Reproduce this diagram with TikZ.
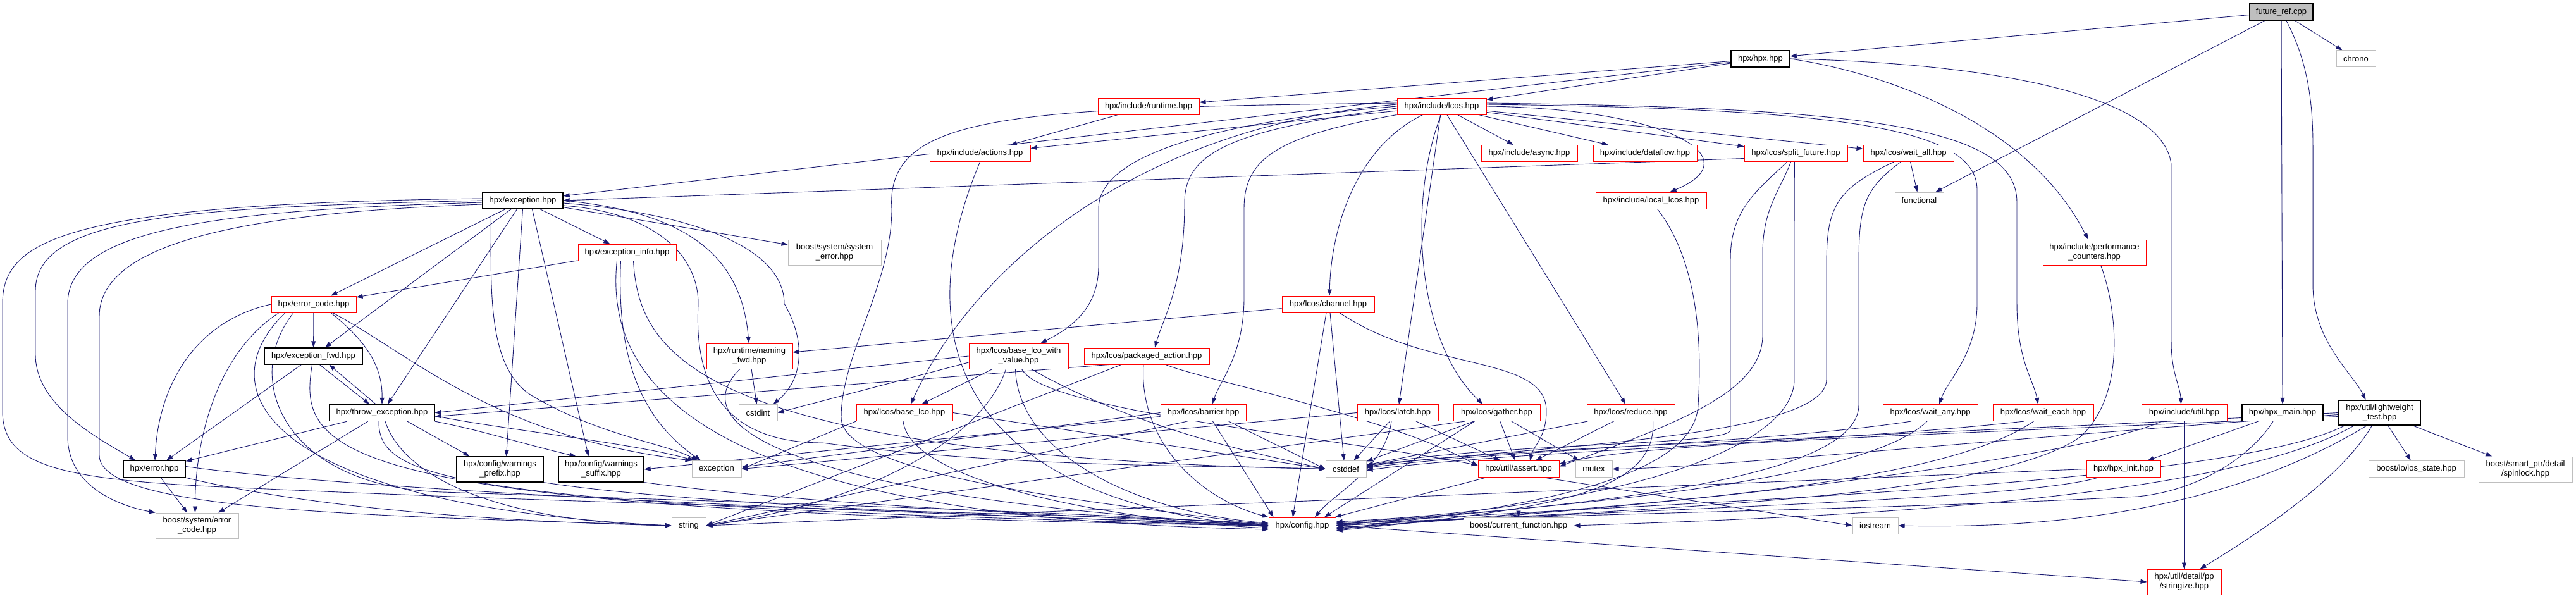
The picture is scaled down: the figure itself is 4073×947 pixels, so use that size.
\documentclass[tikz,border=0pt]{standalone}
\usepackage{fontspec}
\setmainfont{Liberation Sans}
\usetikzlibrary{arrows.meta}
\definecolor{edgec}{HTML}{191970}
\definecolor{nred}{HTML}{FF0000}
\definecolor{ngray}{HTML}{BFBFBF}
\pgfdeclarelayer{back}
\pgfdeclarelayer{edges}
\pgfsetlayers{back,edges,main}
\tikzset{
 box/.style={rectangle, minimum height=26pt, inner sep=0pt, align=center, font=\fontsize{13}{15}\selectfont, fill=white, line width=1pt},
 rbox/.style={box, draw=nred},
 kbox/.style={box, draw=black, line width=1.3pt},
 gbox/.style={box, draw=ngray},
 dep/.style={draw=edgec, line width=0.9pt, -{Triangle[length=10pt,width=7pt]}},
}
\begin{document}
\begin{tikzpicture}[x=1pt,y=-1pt]
\begin{pgfonlayer}{back}
\fill[white] (0,0) rectangle (4073,947);
\end{pgfonlayer}
\useasboundingbox (0,0) rectangle (4073,947);
% ---------------- nodes
\node[kbox,fill=ngray,minimum width=100pt] (fr) at (3607,19) {future\_ref.cpp};
\node[kbox,minimum width=93pt] (hpx) at (2783.5,93) {hpx/hpx.hpp};
\node[gbox,minimum width=62pt] (chrono) at (3725,93) {chrono};
\node[rbox,minimum width=160pt] (runtime) at (1816,168) {hpx/include/runtime.hpp};
\node[rbox,minimum width=141pt] (lcos) at (2279.5,168) {hpx/include/lcos.hpp};
\node[rbox,minimum width=159pt] (actions) at (1549.5,242.5) {hpx/include/actions.hpp};
\node[rbox,minimum width=152pt] (async) at (2418,242.5) {hpx/include/async.hpp};
\node[rbox,minimum width=164pt] (dataflow) at (2601,242.5) {hpx/include/dataflow.hpp};
\node[rbox,minimum width=163pt] (splitf) at (2839.5,242.5) {hpx/lcos/split\_future.hpp};
\node[rbox,minimum width=143pt] (waitall) at (3017.5,242.5) {hpx/lcos/wait\_all.hpp};
\node[kbox,minimum width=127pt] (exc) at (826.5,317) {hpx/exception.hpp};
\node[rbox,minimum width=175pt] (locallcos) at (2610.5,317) {hpx/include/local\_lcos.hpp};
\node[gbox,minimum width=77pt] (functional) at (3034.5,317) {functional};
\node[rbox,minimum width=155pt] (excinfo) at (991.5,399) {hpx/exception\_info.hpp};
\node[gbox,minimum width=147pt,minimum height=40pt] (syserr) at (1319.5,399) {boost/system/system\\\_error.hpp};
\node[rbox,minimum width=163pt,minimum height=40pt] (perf) at (3311.5,399) {hpx/include/performance\\\_counters.hpp};
\node[rbox,minimum width=134pt] (errcode) at (496,481) {hpx/error\_code.hpp};
\node[rbox,minimum width=146pt] (channel) at (2100,481) {hpx/lcos/channel.hpp};
\node[kbox,minimum width=155pt] (excfwd) at (495.5,563) {hpx/exception\_fwd.hpp};
\node[rbox,minimum width=136pt,minimum height=40pt] (naming) at (1185,563) {hpx/runtime/naming\\\_fwd.hpp};
\node[rbox,minimum width=157pt,minimum height=40pt] (blcowv) at (1610.5,563) {hpx/lcos/base\_lco\_with\\\_value.hpp};
\node[rbox,minimum width=198pt] (packaged) at (1813,563) {hpx/lcos/packaged\_action.hpp};
\node[kbox,minimum width=166pt] (throwexc) at (604,652.5) {hpx/throw\_exception.hpp};
\node[gbox,minimum width=61pt] (cstdint) at (1198.5,652.5) {cstdint};
\node[rbox,minimum width=152pt] (baselco) at (1430,652.5) {hpx/lcos/base\_lco.hpp};
\node[rbox,minimum width=135pt] (barrier) at (1902.5,652.5) {hpx/lcos/barrier.hpp};
\node[rbox,minimum width=128pt] (latch) at (2210,652.5) {hpx/lcos/latch.hpp};
\node[rbox,minimum width=137pt] (gather) at (2366.5,652.5) {hpx/lcos/gather.hpp};
\node[rbox,minimum width=139pt] (reduce) at (2578.5,652.5) {hpx/lcos/reduce.hpp};
\node[rbox,minimum width=150pt] (waitany) at (3052,652.5) {hpx/lcos/wait\_any.hpp};
\node[rbox,minimum width=159pt] (waiteach) at (3230.5,652.5) {hpx/lcos/wait\_each.hpp};
\node[rbox,minimum width=135pt] (iutil) at (3453.5,652.5) {hpx/include/util.hpp};
\node[kbox,minimum width=128pt] (hpxmain) at (3609,652.5) {hpx/hpx\_main.hpp};
\node[kbox,minimum width=129pt,minimum height=39pt] (lwt) at (3762.5,652.5) {hpx/util/lightweight\\\_test.hpp};
\node[kbox,minimum width=137pt,minimum height=40pt] (wprefix) at (790.5,742) {hpx/config/warnings\\\_prefix.hpp};
\node[kbox,minimum width=135pt,minimum height=40pt] (wsuffix) at (950.5,742) {hpx/config/warnings\\\_suffix.hpp};
\node[kbox,minimum width=98pt] (error) at (244,741.5) {hpx/error.hpp};
\node[gbox,minimum width=78pt] (exception) at (1133,741.5) {exception};
\node[gbox,minimum width=64pt] (cstddef) at (2128,741.5) {cstddef};
\node[rbox,minimum width=128pt] (assert) at (2401,741.5) {hpx/util/assert.hpp};
\node[gbox,minimum width=58pt] (mutex) at (2520,741.5) {mutex};
\node[rbox,minimum width=117pt] (hpxinit) at (3357.5,741.5) {hpx/hpx\_init.hpp};
\node[gbox,minimum width=151pt] (iosstate) at (3820.5,741.5) {boost/io/ios\_state.hpp};
\node[gbox,minimum width=148pt,minimum height=40pt] (spinlock) at (3993,742) {boost/smart\_ptr/detail\\/spinlock.hpp};
\node[gbox,minimum width=131pt,minimum height=40pt] (boostec) at (311.5,831) {boost/system/error\\\_code.hpp};
\node[gbox,minimum width=54pt] (string) at (1089,831) {string};
\node[rbox,minimum width=106pt] (config) at (2059,831) {hpx/config.hpp};
\node[gbox,minimum width=174pt] (curfunc) at (2401,831) {boost/current\_function.hpp};
\node[gbox,minimum width=72pt] (iostream) at (2965,831) {iostream};
\node[rbox,minimum width=117pt,minimum height=40pt] (stringize) at (3453.5,920) {hpx/util/detail/pp\\/stringize.hpp};
% ---------------- edges
\begin{pgfonlayer}{edges}
% future_ref.cpp
\draw[dep] (fr) -- (hpx);
\draw[dep] (fr) -- (functional);
\draw[dep] (fr) -- (chrono);
\draw[dep] (fr.south) -- (hpxmain.north);
\draw[dep] (fr.-60) .. controls (3645,90) and (3657,150) .. (3657,230) -- (3657,450) .. controls (3657,540) and (3720,590) .. ([xshift=-22pt]lwt.north);
% hpx.hpp
\draw[dep] (hpx) -- (exc);
\draw[dep] (hpx) -- (runtime);
\draw[dep] (hpx) -- (lcos);
\draw[dep] (hpx.east) .. controls (2950,110) and (3200,180) .. ([xshift=-10pt]perf.north);
\draw[dep] (hpx.east) .. controls (3150,100) and (3420,150) .. (3433,260) -- (3433,540) .. controls (3433,590) and (3447,610) .. ([xshift=-5pt]iutil.north);
% runtime
\draw[dep] (runtime) -- (actions);
% lcos
\draw[dep] (lcos) -- (actions);
\draw[dep] (lcos) -- (async);
\draw[dep] (lcos) -- (dataflow);
\draw[dep] (lcos) -- (splitf);
\draw[dep] (lcos) -- (waitall);
\draw[dep] (lcos.east) .. controls (2640,172) and (2770,250) .. ([xshift=30pt]locallcos.north);
\draw[dep] ([yshift=3pt]lcos.east) .. controls (2900,172) and (3126,200) .. (3126,300) -- (3126,480) .. controls (3126,560) and (3080,600) .. ([xshift=14pt]waitany.north);
\draw[dep] ([yshift=5pt]lcos.east) .. controls (2950,170) and (3189,200) .. (3189,320) -- (3189,480) .. controls (3189,570) and (3215,600) .. ([xshift=-8pt]waiteach.north);
\draw[dep] ([xshift=-30pt]lcos.south) .. controls (2150,230) and (2105,350) .. ([xshift=2pt]channel.north);
\draw[dep] (lcos) -- (latch);
\draw[dep] ([xshift=-1pt]lcos.south) .. controls (2225,320) and (2240,540) .. ([xshift=-22pt]gather.north);
\draw[dep] (lcos) -- (reduce);
\draw[dep] (lcos.west) .. controls (1900,195) and (1737,250) .. (1737,330) -- (1737,420) .. controls (1737,490) and (1690,520) .. ([xshift=35pt]blcowv.north);
\draw[dep] ([yshift=-3pt]lcos.west) .. controls (1950,205) and (1873,240) .. (1873,320) .. controls (1873,450) and (1840,500) .. ([xshift=13pt]packaged.north);
\draw[dep] (lcos.south west) .. controls (2020,215) and (1967,250) .. (1967,330) -- (1967,470) .. controls (1967,560) and (1930,600) .. ([xshift=14pt]barrier.north);
\draw[dep] ([yshift=3pt]lcos.west) .. controls (1800,200) and (1540,420) .. ([xshift=10pt]baselco.north);
\draw[dep] ([yshift=5pt]lcos.west) .. controls (1600,170) and (1400,180) .. (1410,330) .. controls (1410,450) and (1330,560) .. (1330,660) .. controls (1330,760) and (1800,800) .. (config.west);
% actions
\draw[dep] (actions.south) .. controls (1430,540) and (1520,790) .. ([yshift=-2pt]config.west);
% exception.hpp
\draw[dep] (exc) -- (errcode);
\draw[dep] (exc) -- (excfwd);
\draw[dep] (exc) -- (throwexc);
\draw[dep] ([xshift=-50pt]exc.south) .. controls (776,460) and (770,580) .. (840,625) .. controls (950,690) and (1050,700) .. ([xshift=-30pt]exception.north);
\draw[dep] (exc.south) -- ([xshift=10pt]wprefix.north);
\draw[dep] ([xshift=15pt]exc.south) -- ([xshift=-20pt]wsuffix.north);
\draw[dep] (exc) -- (excinfo);
\draw[dep] (exc) -- (syserr);
\draw[dep] (exc.east) .. controls (1080,335) and (1172,400) .. ([xshift=-1pt]naming.north);
\draw[dep] ([yshift=-4pt]exc.east) .. controls (1120,340) and (1240,400) .. (1240,480) .. controls (1275,540) and (1270,600) .. ([xshift=24pt]cstdint.north);
\draw[dep] ([yshift=-8pt]exc.east) .. controls (1030,335) and (1104,400) .. (1104,480) .. controls (1100,560) and (1110,700) .. (1300,700) .. controls (1600,740) and (1900,735) .. (cstddef.west);
\draw[dep] (exc.west) .. controls (300,328) and (56,340) .. (56,460) -- (56,560) .. controls (56,640) and (150,690) .. ([xshift=-30pt]error.north);
\draw[dep] ([yshift=-3pt]exc.west) .. controls (350,332) and (107,360) .. (107,480) -- (107,690) .. controls (107,770) and (190,800) .. (boostec.north west);
\draw[dep] ([yshift=-6pt]exc.west) .. controls (400,336) and (157,380) .. (157,500) -- (157,720) .. controls (157,810) and (600,815) .. (string.west);
\draw[dep] ([yshift=3pt]exc.west) .. controls (100,322) and (4,380) .. (4,480) -- (4,650) .. controls (4,740) and (100,760) .. (400,772) .. controls (1000,800) and (1800,815) .. ([yshift=3pt]config.west);
% error_code.hpp
\draw[dep] (errcode) -- (excfwd);
\draw[dep] ([xshift=27pt]errcode.south) .. controls (580,540) and (605,580) .. (throwexc.north);
\draw[dep] (errcode.west) .. controls (300,510) and (250,620) .. ([xshift=1pt]error.north);
\draw[dep] ([xshift=-55pt]errcode.south) .. controls (340,560) and (308,700) .. ([xshift=-3pt]boostec.north);
\draw[dep] ([xshift=30pt]errcode.south) .. controls (650,560) and (780,690) .. (exception.north west);
\draw[dep] ([xshift=-32pt]errcode.south) .. controls (380,600) and (450,770) .. (700,778) .. controls (1200,795) and (1800,812) .. (config.west);
\draw[dep] ([xshift=-45pt]errcode.south) .. controls (320,620) and (430,800) .. (string.west);
% exception_fwd.hpp
\draw[dep] (excfwd) -- (error);
\draw[dep] ([xshift=10pt]excfwd.south) -- ([xshift=-20pt]throwexc.north);
\draw[dep] ([xshift=-2pt]excfwd.south) .. controls (470,720) and (520,810) .. (config.west);
% throw_exception.hpp
\draw[dep] ([xshift=-10pt]throwexc.north) -- ([xshift=25pt]excfwd.south);
\draw[dep] (throwexc) -- (error);
\draw[dep] (throwexc) -- (boostec);
\draw[dep] ([xshift=-5pt]throwexc.south) .. controls (598,760) and (720,800) .. (config.west);
\draw[dep] ([xshift=5pt]throwexc.south) .. controls (640,760) and (800,825) .. (string.west);
\draw[dep] ([yshift=-5pt]throwexc.east) .. controls (800,680) and (1000,700) .. ([xshift=4pt]exception.north west);
\draw[dep] ([xshift=40pt]throwexc.south) -- ([xshift=-48pt]wprefix.north);
\draw[dep] (throwexc.south east) .. controls (760,680) and (820,700) .. ([xshift=-40pt]wsuffix.north);
% error.hpp
\draw[dep] (error) -- (boostec);
\draw[dep] (error.south east) .. controls (500,805) and (800,825) .. (string.west);
\draw[dep] ([yshift=4pt]error.east) .. controls (600,780) and (1500,815) .. ([yshift=2pt]config.west);
% exception_info.hpp
\draw[dep] (excinfo) -- (errcode);
\draw[dep] ([xshift=-10pt]excinfo.south) .. controls (975,560) and (1010,660) .. ([xshift=-25pt]exception.north);
\draw[dep] ([xshift=-16pt]excinfo.south) .. controls (950,650) and (1200,820) .. ([yshift=-6pt]config.west);
\draw[dep] ([xshift=10pt]excinfo.south) .. controls (1010,560) and (1100,720) .. (cstddef.west);
% naming_fwd.hpp
\draw[dep] (naming) -- (cstdint);
\draw[dep] ([xshift=-15pt]naming.south) .. controls (1050,700) and (1400,800) .. ([yshift=2pt]config.west);
% warnings
\draw[dep] (wprefix.south east) .. controls (1100,800) and (1700,820) .. (config.west);
\draw[dep] (wsuffix.south east) .. controls (1300,800) and (1700,815) .. (config.west);
% channel
\draw[dep] (channel) -- (naming);
\draw[dep] ([xshift=3pt]channel.south) -- ([xshift=-3pt]cstddef.north);
\draw[dep] ([xshift=-3pt]channel.south) -- ([xshift=-15pt]config.north);
\draw[dep] ([xshift=18pt]channel.south) .. controls (2260,590) and (2445,560) .. (2445,650) .. controls (2445,690) and (2425,705) .. ([xshift=18pt]assert.north);
% base_lco_with_value
\draw[dep] (blcowv.west) -- (throwexc.east);
\draw[dep] ([yshift=-10pt]blcowv.west) -- (cstdint.east);
\draw[dep] (blcowv) -- (baselco);
\draw[dep] ([xshift=-20pt]blcowv.south) .. controls (1560,680) and (1400,790) .. (string.east);
\draw[dep] ([xshift=-5pt]blcowv.south) .. controls (1610,720) and (1800,810) .. ([yshift=4pt]config.west);
\draw[dep] ([xshift=5pt]blcowv.south) .. controls (1650,650) and (2100,690) .. ([yshift=6pt]assert.west);
\draw[dep] ([xshift=20pt]blcowv.south) .. controls (1800,680) and (2000,720) .. (cstddef.west);
% packaged_action
\draw[dep] ([xshift=40pt]packaged.south west) -- ([yshift=-6pt]throwexc.east);
\draw[dep] ([xshift=-40pt]packaged.south) -- (string.east);
\draw[dep] ([xshift=-5pt]packaged.south) .. controls (1800,700) and (1900,790) .. (config.north west);
\draw[dep] ([xshift=30pt]packaged.south) .. controls (1900,600) and (2200,660) .. ([yshift=5pt]assert.west);
% base_lco
\draw[dep] (baselco.south west) -- (exception.east);
\draw[dep] (baselco.east) -- (cstddef.west);
\draw[dep] ([xshift=-2pt]baselco.south) .. controls (1440,770) and (1800,825) .. ([yshift=-4pt]config.west);
% barrier
\draw[dep] (barrier.west) -- ([yshift=3pt]exception.east);
\draw[dep] ([yshift=-6pt]barrier.west) -- (wsuffix.east);
\draw[dep] ([xshift=-25pt]barrier.south) -- (string.east);
\draw[dep] ([xshift=15pt]barrier.south) -- ([xshift=8pt]config.north west);
\draw[dep] ([xshift=40pt]barrier.south) -- (cstddef.west);
% latch
\draw[dep] (latch) -- (cstddef);
\draw[dep] ([xshift=-10pt]latch.south) .. controls (2190,740) and (2110,780) .. ([xshift=20pt]config.north);
\draw[dep] (latch) -- (assert);
\draw[dep] (latch.west) -- (exception.east);
% gather
\draw[dep] (gather) -- (cstddef);
\draw[dep] ([xshift=-50pt]gather.south) -- (string.east);
\draw[dep] ([xshift=-35pt]gather.south) -- ([xshift=35pt]config.north);
\draw[dep] (gather) -- (assert);
\draw[dep] (gather) -- (mutex);
% reduce
\draw[dep] (reduce) -- (cstddef);
\draw[dep] (reduce) -- (assert);
\draw[dep] ([xshift=35pt]reduce.south) .. controls (2620,780) and (2450,805) .. ([yshift=-8pt]config.east);
% assert
\draw[dep] (assert) -- (curfunc);
\draw[dep] (assert) -- (config);
\draw[dep] ([xshift=40pt]assert.south) -- (iostream.west);
% split_future
\draw[dep] ([yshift=-8pt]splitf.west) -- (exc.east);
\draw[dep] ([xshift=-8pt]splitf.south) .. controls (2815,300) and (2787,330) .. (2787,400) -- (2787,530) .. controls (2787,620) and (2650,670) .. ([yshift=4pt]assert.east);
\draw[dep] ([xshift=-14pt]splitf.south) .. controls (2780,300) and (2736,330) .. (2736,410) -- (2736,680) .. controls (2736,705) and (2350,700) .. ([yshift=5pt]cstddef.east);
\draw[dep] ([xshift=-2pt]splitf.south) .. controls (2837,300) and (2837,330) .. (2837,400) -- (2837,600) .. controls (2837,700) and (2600,800) .. ([yshift=6pt]config.east);
% wait_all
\draw[dep] (waitall) -- (functional);
\draw[dep] ([xshift=-23pt]waitall.south) .. controls (2900,300) and (2888,330) .. (2888,420) -- (2888,600) .. controls (2888,690) and (2450,705) .. ([yshift=6pt]cstddef.east);
\draw[dep] ([xshift=-12pt]waitall.south) .. controls (2945,300) and (2939,330) .. (2939,420) -- (2939,640) .. controls (2939,760) and (2500,800) .. ([yshift=2pt]config.east);
% local_lcos
\draw[dep] ([xshift=10pt]locallcos.south) .. controls (2690,420) and (2690,560) .. (2685,640) .. controls (2680,760) and (2400,805) .. ([yshift=-5pt]config.east);
% performance_counters
\draw[dep] ([xshift=10pt]perf.south) .. controls (3345,480) and (3365,620) .. (3290,690) .. controls (3150,790) and (2600,805) .. (config.east);
% wait_any, wait_each
\draw[dep] ([xshift=-30pt]waitany.south) .. controls (2800,700) and (2400,710) .. ([yshift=2pt]cstddef.east);
\draw[dep] ([xshift=-5pt]waitany.south) .. controls (2950,760) and (2500,800) .. ([yshift=4pt]config.east);
\draw[dep] ([xshift=-30pt]waiteach.south) .. controls (2900,700) and (2400,712) .. ([yshift=-2pt]cstddef.east);
\draw[dep] ([xshift=-15pt]waiteach.south) .. controls (3050,780) and (2500,800) .. ([yshift=-6pt]config.east);
% include/util
\draw[dep] (iutil) -- (stringize);
\draw[dep] ([xshift=-35pt]iutil.south) .. controls (3300,720) and (2700,800) .. ([yshift=-3pt]config.east);
% hpx_main, hpx_init
\draw[dep] (hpxmain) -- (hpxinit);
\draw[dep] ([xshift=-15pt]hpxmain.south) .. controls (3560,720) and (3480,775) .. (3380,785) .. controls (3000,805) and (2500,812) .. ([yshift=3pt]config.east);
\draw[dep] ([xshift=-40pt]hpxinit.south) .. controls (3200,790) and (2600,805) .. (config.east);
\draw[dep] (hpxinit.west) -- (string.east);
% lightweight_test
\draw[dep] (lwt.west) .. controls (3000,690) and (2400,705) .. ([yshift=4pt]cstddef.east);
\draw[dep] ([yshift=-3pt]lwt.west) .. controls (3200,690) and (2700,740) .. (mutex.east);
\draw[dep] ([yshift=-6pt]lwt.west) .. controls (3000,690) and (2600,700) .. ([yshift=8pt]assert.east);
\draw[dep] ([xshift=-55pt]lwt.south) .. controls (3500,780) and (2400,800) .. (config.east);
\draw[dep] ([xshift=-40pt]lwt.south) .. controls (3500,800) and (2800,820) .. (curfunc.east);
\draw[dep] ([xshift=-20pt]lwt.south) .. controls (3500,820) and (3200,835) .. (iostream.east);
\draw[dep] ([xshift=-12pt]lwt.south) .. controls (3700,760) and (3560,850) .. ([xshift=25pt]stringize.north);
\draw[dep] (lwt) -- (iosstate);
\draw[dep] (lwt) -- (spinlock);
% config
\draw[dep] (config.east) -- (stringize.west);
\end{pgfonlayer}
\end{tikzpicture}
\end{document}
